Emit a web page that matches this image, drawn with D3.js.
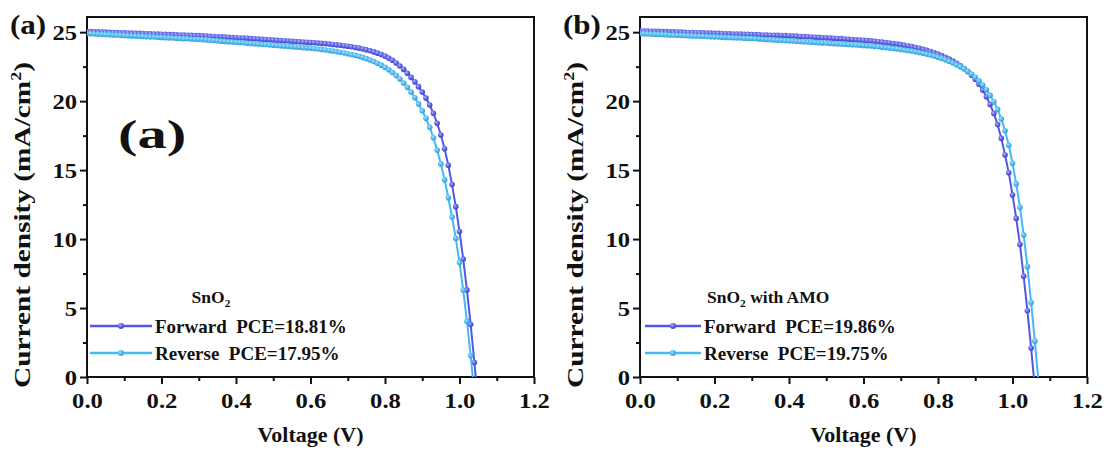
<!DOCTYPE html>
<html>
<head>
<meta charset="utf-8">
<script src="https://cdn.jsdelivr.net/npm/d3@7"></script>
<style>
  body { margin: 0; background: #fff; }
  svg { display: block; }
  text { font-family: "Liberation Serif", "Times New Roman", serif; font-weight: bold; fill: #111; }
</style>
</head>
<body>
<svg id="chart" width="1112" height="451"></svg>
<script>
// Applied bias (V), 10 mV steps
const voltage = [0.00,0.01,0.02,0.03,0.04,0.05,0.06,0.07,0.08,0.09,0.10,0.11,0.12,0.13,0.14,0.15,0.16,0.17,0.18,0.19,
  0.20,0.21,0.22,0.23,0.24,0.25,0.26,0.27,0.28,0.29,0.30,0.31,0.32,0.33,0.34,0.35,0.36,0.37,0.38,0.39,
  0.40,0.41,0.42,0.43,0.44,0.45,0.46,0.47,0.48,0.49,0.50,0.51,0.52,0.53,0.54,0.55,0.56,0.57,0.58,0.59,
  0.60,0.61,0.62,0.63,0.64,0.65,0.66,0.67,0.68,0.69,0.70,0.71,0.72,0.73,0.74,0.75,0.76,0.77,0.78,0.79,
  0.80,0.81,0.82,0.83,0.84,0.85,0.86,0.87,0.88,0.89,0.90,0.91,0.92,0.93,0.94,0.95,0.96,0.97,0.98,0.99,
  1.00,1.01,1.02,1.03,1.04,1.05,1.06,1.07];

// SnO2 device, current density (mA/cm2)
const snForward = [25.05,25.04,25.03,25.02,25.01,25.00,24.99,24.98,24.97,24.96,24.95,24.94,24.93,24.92,24.91,24.90,24.89,24.88,24.87,24.86,
  24.85,24.84,24.83,24.82,24.81,24.80,24.79,24.78,24.77,24.76,24.75,24.73,24.72,24.70,24.69,24.67,24.66,24.64,24.63,24.61,
  24.60,24.58,24.57,24.55,24.54,24.52,24.50,24.48,24.47,24.45,24.43,24.41,24.39,24.38,24.36,24.34,24.32,24.30,24.29,24.27,
  24.25,24.23,24.21,24.19,24.17,24.14,24.11,24.08,24.05,24.02,23.98,23.94,23.89,23.84,23.78,23.72,23.65,23.57,23.48,23.38,
  23.26,23.12,22.96,22.77,22.55,22.30,22.02,21.72,21.40,21.05,20.66,20.22,19.72,19.12,18.40,17.55,16.55,15.35,13.95,12.35,
  10.55,8.55,6.30,3.80,1.05,-1.95];
const snReverse = [24.90,24.89,24.87,24.86,24.84,24.83,24.82,24.80,24.79,24.77,24.76,24.74,24.73,24.72,24.70,24.69,24.67,24.66,24.65,24.63,
  24.62,24.60,24.59,24.58,24.56,24.55,24.53,24.52,24.51,24.49,24.48,24.46,24.44,24.42,24.40,24.38,24.35,24.33,24.31,24.29,
  24.27,24.25,24.23,24.20,24.18,24.16,24.14,24.12,24.10,24.08,24.05,24.03,24.01,23.99,23.97,23.95,23.93,23.91,23.88,23.86,
  23.84,23.81,23.78,23.75,23.71,23.67,23.63,23.59,23.54,23.49,23.44,23.38,23.32,23.25,23.17,23.08,22.98,22.87,22.75,22.61,
  22.45,22.27,22.07,21.85,21.60,21.32,21.00,20.65,20.25,19.80,19.30,18.75,18.10,17.35,16.45,15.45,14.30,13.00,11.60,10.05,
  8.30,6.30,4.05,1.55,-1.20];

// SnO2 with AMO device, current density (mA/cm2)
const amoForward = [25.10,25.09,25.08,25.07,25.06,25.06,25.05,25.04,25.03,25.02,25.01,25.00,24.99,24.98,24.97,24.96,24.96,24.95,24.94,24.93,
  24.92,24.91,24.90,24.89,24.88,24.87,24.87,24.86,24.85,24.84,24.83,24.82,24.81,24.80,24.79,24.78,24.78,24.77,24.76,24.75,
  24.74,24.72,24.71,24.69,24.68,24.66,24.65,24.63,24.62,24.60,24.59,24.57,24.56,24.54,24.53,24.51,24.49,24.47,24.45,24.43,
  24.41,24.39,24.37,24.34,24.31,24.28,24.25,24.22,24.18,24.14,24.10,24.05,24.00,23.95,23.89,23.83,23.76,23.68,23.60,23.51,
  23.41,23.30,23.18,23.05,22.91,22.75,22.57,22.37,22.14,21.88,21.58,21.22,20.80,20.32,19.76,19.10,18.30,17.30,16.10,14.80,
  13.20,11.50,9.60,7.30,4.80,2.10,-0.80];
const amoReverse = [24.90,24.89,24.88,24.86,24.85,24.84,24.83,24.82,24.80,24.79,24.78,24.77,24.76,24.74,24.73,24.72,24.71,24.70,24.68,24.67,
  24.66,24.65,24.64,24.62,24.61,24.60,24.59,24.58,24.56,24.55,24.54,24.52,24.51,24.49,24.47,24.46,24.44,24.42,24.41,24.39,
  24.37,24.36,24.34,24.32,24.31,24.29,24.27,24.26,24.24,24.22,24.21,24.19,24.17,24.16,24.14,24.12,24.11,24.09,24.07,24.06,
  24.04,24.02,24.00,23.97,23.94,23.91,23.88,23.85,23.82,23.79,23.75,23.71,23.67,23.63,23.58,23.53,23.47,23.41,23.34,23.27,
  23.19,23.10,23.00,22.89,22.77,22.64,22.50,22.34,22.16,21.96,21.73,21.47,21.17,20.82,20.42,19.95,19.40,18.70,17.85,16.80,
  15.50,14.00,12.30,10.30,8.00,5.40,2.60,-0.40];

const xTicks = [0.0, 0.2, 0.4, 0.6, 0.8, 1.0, 1.2];
const xMinorTicks = [0.1, 0.3, 0.5, 0.7, 0.9, 1.1];
const yTicks = [0, 5, 10, 15, 20, 25];
const yMinorTicks = [2.5, 7.5, 12.5, 17.5, 22.5];

const panelLabels = ["(a)", "(b)"];
const legendTitles = ["SnO2", "SnO2 with AMO"];
const forwardPCE = ["18.81%", "19.86%"];
const reversePCE = ["17.95%", "19.75%"];

const COLOR_FWD = "#5358e4";
const COLOR_REV = "#45b7f2";

const svg = d3.select("#chart");
const defs = svg.append("defs");

// rescale a plain text element horizontally by a factor, keeping its anchor
function widen(sel, factor) {
  sel.each(function () {
    const w = this.getComputedTextLength();
    d3.select(this).attr("textLength", w * factor).attr("lengthAdjust", "spacingAndGlyphs");
  });
}

// shaded "ball" markers
function ballGradient(id, base) {
  const g = defs.append("radialGradient").attr("id", id)
    .attr("cx", "38%").attr("cy", "35%").attr("r", "65%");
  g.append("stop").attr("offset", "0%").attr("stop-color", d3.interpolateRgb(base, "#ffffff")(0.55));
  g.append("stop").attr("offset", "60%").attr("stop-color", base);
  g.append("stop").attr("offset", "100%").attr("stop-color", d3.color(base).darker(0.4));
}
ballGradient("ballFwd", COLOR_FWD);
ballGradient("ballRev", COLOR_REV);

const plotTop = 17, plotBottom = 377, plotWidth = 447;
const panels = [
  { left: 87,  fwd: snForward,  rev: snReverse,  legendX: 90,  lineLen: 62, titleX: 211, titleAnchor: "middle" },
  { left: 640, fwd: amoForward, rev: amoReverse, legendX: 645, lineLen: 56, titleX: 707, titleAnchor: "start" }
];

function subscriptText(sel, str, size) {
  // the "2" of SnO2 sits as a subscript
  const rest = str.replace("SnO2", "");
  sel.append("tspan").text("SnO");
  sel.append("tspan").attr("dy", 4).attr("font-size", size * 0.65).text("2");
  sel.append("tspan").attr("dy", -4).text(rest);
}

panels.forEach((p, i) => {
  const x = d3.scaleLinear().domain([0, 1.2]).range([p.left, p.left + plotWidth]);
  const y = d3.scaleLinear().domain([0, 26.1]).range([plotBottom, plotTop]);
  const g = svg.append("g");

  const clipId = "clip" + i;
  defs.append("clipPath").attr("id", clipId).append("rect")
    .attr("x", p.left).attr("y", plotTop).attr("width", plotWidth).attr("height", plotBottom - plotTop);

  // axes
  g.append("g").attr("transform", `translate(0,${plotBottom})`)
    .call(d3.axisBottom(x).tickValues(xTicks).tickFormat(d3.format(".1f")).tickSize(7).tickPadding(8).tickSizeOuter(0));
  g.append("g").attr("transform", `translate(0,${plotBottom})`)
    .call(d3.axisBottom(x).tickValues(xMinorTicks).tickFormat("").tickSize(4).tickSizeOuter(0))
    .select(".domain").remove();
  g.append("g").attr("transform", `translate(${p.left},0)`)
    .call(d3.axisLeft(y).tickValues(yTicks).tickSize(7).tickPadding(3).tickSizeOuter(0));
  g.append("g").attr("transform", `translate(${p.left},0)`)
    .call(d3.axisLeft(y).tickValues(yMinorTicks).tickFormat("").tickSize(4).tickSizeOuter(0))
    .select(".domain").remove();
  g.selectAll(".tick line").attr("stroke", "#111").attr("stroke-width", 2);
  g.selectAll(".domain").remove();
  g.selectAll(".tick text").attr("font-size", 22).attr("fill", "#111").attr("font-family", null);
  widen(g.selectAll(".tick text"), 1.12);

  // frame
  g.append("rect").attr("x", p.left).attr("y", plotTop)
    .attr("width", plotWidth).attr("height", plotBottom - plotTop)
    .attr("fill", "none").attr("stroke", "#111").attr("stroke-width", 2);

  // curves
  const curves = g.append("g").attr("clip-path", `url(#${clipId})`);
  const line = d3.line().x(d => x(d[0])).y(d => y(d[1]));
  [[p.fwd, COLOR_FWD, "ballFwd"], [p.rev, COLOR_REV, "ballRev"]].forEach(([vals, col, grad]) => {
    const pts = vals.map((j, k) => [voltage[k], j]);
    curves.append("path").datum(pts).attr("d", line)
      .attr("fill", "none").attr("stroke", col).attr("stroke-width", 2);
    curves.selectAll(null).data(pts).enter().append("circle")
      .attr("cx", d => x(d[0])).attr("cy", d => y(d[1])).attr("r", 2.8)
      .attr("fill", `url(#${grad})`);
  });

  // axis titles
  g.append("text").attr("x", p.left + plotWidth / 2).attr("y", 442)
    .attr("text-anchor", "middle").attr("font-size", 22).text("Voltage (V)");
  const yt = g.append("text")
    .attr("transform", `translate(${p.left - 57},${225}) rotate(-90)`)
    .attr("text-anchor", "middle").attr("font-size", 23)
    .attr("textLength", 326).attr("lengthAdjust", "spacingAndGlyphs");
  yt.append("tspan").text("Current density (mA/cm");
  yt.append("tspan").attr("dy", -9).attr("font-size", 14).text("2");
  yt.append("tspan").attr("dy", 9).text(")");

  // panel tag
  const tag = g.append("text").attr("x", p.left - 77).attr("y", 34).attr("font-size", 27).text(panelLabels[i]);
  widen(tag, 1.15);

  // legend
  const t = g.append("text").attr("x", p.titleX).attr("y", 303)
    .attr("text-anchor", p.titleAnchor).attr("font-size", 17.5);
  subscriptText(t, legendTitles[i], 17.5);

  const rows = [["Forward", forwardPCE[i], COLOR_FWD, "ballFwd", 326], ["Reverse", reversePCE[i], COLOR_REV, "ballRev", 353]];
  rows.forEach(([name, pce, col, grad, ly]) => {
    g.append("line").attr("x1", p.legendX).attr("x2", p.legendX + p.lineLen)
      .attr("y1", ly).attr("y2", ly).attr("stroke", col).attr("stroke-width", 2.5);
    g.append("circle").attr("cx", p.legendX + p.lineLen / 2).attr("cy", ly).attr("r", 3)
      .attr("fill", `url(#${grad})`);
    g.append("text").attr("x", p.legendX + p.lineLen + 3).attr("y", ly + 7)
      .attr("font-size", 19).attr("xml:space", "preserve")
      .text(`${name}  PCE=${pce}`);
  });
});

// inset tag inside the first panel
const inset = svg.append("text").attr("x", 118).attr("y", 148).attr("font-size", 39).text("(a)");
widen(inset, 1.5);
</script>
</body>
</html>
